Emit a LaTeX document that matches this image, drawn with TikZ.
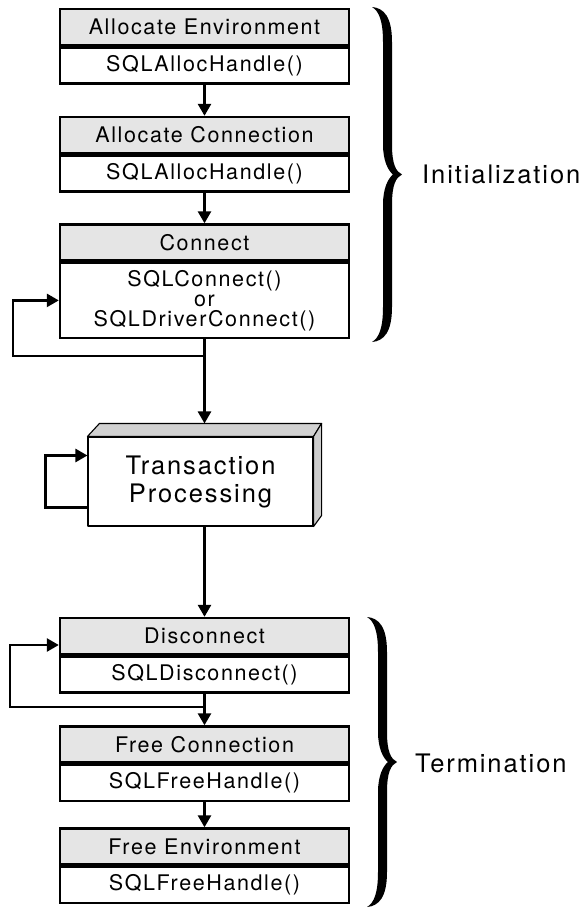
\documentclass[tikz,border=0pt]{standalone}
\usepackage{fontspec}
\newfontfamily\diagfont[LetterSpace=7.5]{TeX Gyre Heros}
\usetikzlibrary{arrows.meta,calc,positioning}
\definecolor{headgray}{gray}{0.9}
\definecolor{topgray}{gray}{0.82}
\definecolor{sidegray}{gray}{0.8}
% filled curly brace: (left x, top y)(height)
\def\curlybrace(#1,#2)(#3){%
	\begin{scope}[shift={(#1,#2)}]
		\fill (0,0) .. controls (12,1) and (20,10) .. (20,35) -- (20,#3/2-30)
			.. controls (20,#3/2-10) and (24,#3/2-3) .. (30,#3/2)
			.. controls (24,#3/2+3) and (20,#3/2+10) .. (20,#3/2+30) -- (20,#3-35)
			.. controls (20,#3-10) and (12,#3-1) .. (0,#3)
			.. controls (7,#3-4) and (11,#3-14) .. (11,#3-35) -- (11,#3/2+30)
			.. controls (11,#3/2+14) and (16,#3/2+4) .. (21,#3/2)
			.. controls (16,#3/2-4) and (11,#3/2-14) .. (11,#3/2-30) -- (11,35)
			.. controls (11,14) and (7,4) .. (0,0) -- cycle;
	\end{scope}}
\tikzset{
	headbox/.style={draw, line width=2.4pt, fill=headgray, minimum width=289pt, minimum height=36pt, inner sep=0pt, font=\diagfont\fontsize{21.5}{20}\selectfont},
	callbox/.style={headbox, fill=white},
	flow/.style={line width=2.6pt, -{Triangle[length=12pt,width=13pt]}},
	solid3d/.style={draw, line width=1.1pt, line join=round},
	phase/.style={anchor=west, inner sep=0pt, font=\diagfont\fontsize{25.5}{28}\selectfont}
}
\begin{document}
\begin{tikzpicture}[x=1pt, y=-1pt]
	\useasboundingbox (0,0) rectangle (580,908);
	
	%%%%% INITIALIZATION %%%%%
	\node[headbox] (envhead) at (204.5,27) {Allocate Environment};
	\node[callbox, below=0pt of envhead] (envbody) {SQLAllocHandle()};
	
	\node[headbox] (conhead) at (204.5,135) {Allocate Connection};
	\node[callbox, below=0pt of conhead] (conbody) {SQLAllocHandle()};
	
	\node[headbox] (linkhead) at (204.5,242.5) {Connect};
	\node[callbox, below=0pt of linkhead, minimum height=75pt, align=center] (linkbody) {SQLConnect()\\or\\SQLDriverConnect()};
	
	%%%%% TRANSACTION %%%%%
	\node[solid3d, fill=white, minimum width=225pt, minimum height=89pt, inner sep=0pt, align=center, font=\diagfont\fontsize{25.5}{28}\selectfont] (trans) at (200.5,481.5) {Transaction\\Processing};
	\draw[solid3d, fill=topgray] (trans.north west) -- ++(12,-13) -- ($(trans.north east)+(8,-13)$) -- (trans.north east) -- cycle;
	\draw[solid3d, fill=sidegray] (trans.north east) -- ++(8,-13) -- ($(trans.south east)+(8,-11)$) -- (trans.south east) -- cycle;
	\coordinate (transtop) at ($(trans.north -| linkbody.south)+(0,-13)$);
	
	%%%%% TERMINATION %%%%%
	\node[headbox] (dishead) at (204.5,636) {Disconnect};
	\node[callbox, below=0pt of dishead] (disbody) {SQLDisconnect()};
	
	\node[headbox] (fchead) at (204.5,744.5) {Free Connection};
	\node[callbox, below=0pt of fchead] (fcbody) {SQLFreeHandle()};
	
	\node[headbox] (fehead) at (204.5,846.5) {Free Environment};
	\node[callbox, below=0pt of fehead] (febody) {SQLFreeHandle()};
	
	%%%%% CONNECTORS %%%%%
	\coordinate (linkloop) at (13,356);
	\coordinate (disloop) at (10,707);
	
	\draw[flow] (envbody) -- (conhead);
	\draw[flow] (conbody) -- (linkhead);
	\draw[flow] (linkbody.south) |- (linkloop) |- (linkbody.west);
	\draw[flow] (linkbody.south) -- (transtop);
	\draw[flow] ($(trans.west)+(0,26)$) -- ++(-42,0) |- ($(trans.west)+(0,-26)$);
	\draw[flow] (trans.south -| dishead.north) -- (dishead.north);
	\draw[flow] (disbody.south) |- (disloop) |- ($(dishead.west)+(0,9)$);
	\draw[flow] (disbody) -- (fchead);
	\draw[flow] (fcbody) -- (fehead);
	
	%%%%% BRACES %%%%%
	\curlybrace(372,7)(335)
	\node[phase] (initlabel) at (422,174) {Initialization};
	\curlybrace(367,617)(290)
	\node[phase] (termlabel) at (415,763) {Termination};
\end{tikzpicture}
\end{document}
